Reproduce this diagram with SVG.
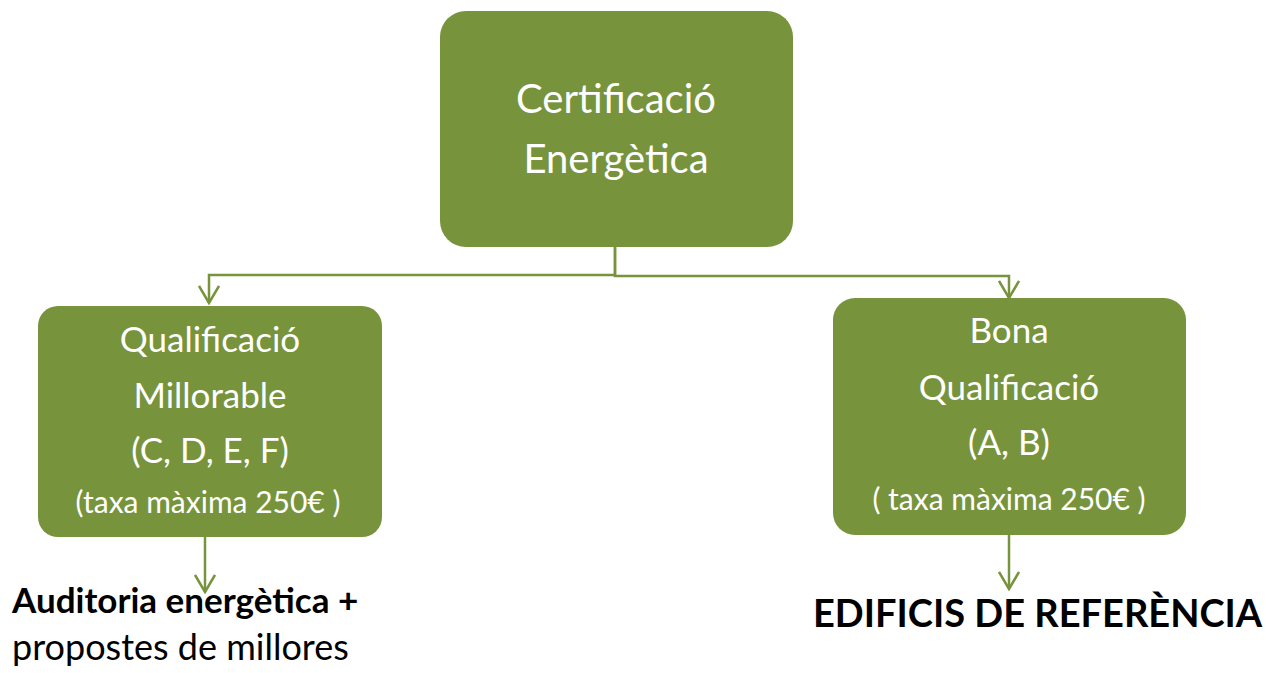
<svg xmlns="http://www.w3.org/2000/svg" width="1266" height="673" viewBox="0 0 1266 673">
<style>
.box{fill:#77933c}
.t{font-family:Lato,"Open Sans",sans-serif;fill:#ffffff;text-anchor:middle}
.c{fill:none;stroke:#77933c;stroke-width:2.5}
.b{font-family:Lato,"Open Sans",sans-serif;fill:#000000}
</style>
<defs>
<marker id="ah" viewBox="0 0 20 22" refX="18" refY="11" markerWidth="20" markerHeight="22" markerUnits="userSpaceOnUse" orient="auto">
<path d="M1,1 L18,11 L1,21" fill="none" stroke="#77933c" stroke-width="2.5"/>
</marker>
</defs>
<g id="connectors">
<path class="c" d="M615,247 V275 H209 V303" marker-end="url(#ah)"/>
<path class="c" d="M615,247 V276 H1009 V298" marker-end="url(#ah)"/>
<path class="c" d="M205,537 V592" marker-end="url(#ah)"/>
<path class="c" d="M1009,535 V589" marker-end="url(#ah)"/>
</g>
<g id="node-top">
<rect class="box" x="440" y="11" width="353" height="236" rx="26"/>
<text class="t" x="616" y="113" font-size="40">Certificació</text>
<text class="t" x="616" y="173" font-size="40">Energètica</text>
</g>
<g id="node-left">
<rect class="box" x="38" y="306" width="344" height="231" rx="20"/>
<text class="t" x="210" y="352" font-size="35">Qualificació</text>
<text class="t" x="210" y="408" font-size="35">Millorable</text>
<text class="t" x="210" y="463" font-size="35">(C, D, E, F)</text>
<text class="t" x="208" y="513" font-size="30">(taxa màxima 250€ )</text>
</g>
<g id="node-right">
<rect class="box" x="833" y="298" width="353" height="237" rx="22"/>
<text class="t" x="1009" y="343" font-size="35">Bona</text>
<text class="t" x="1009" y="400" font-size="35">Qualificació</text>
<text class="t" x="1009" y="455" font-size="35">(A, B)</text>
<text class="t" x="1009" y="510" font-size="30">( taxa màxima 250€ )</text>
</g>
<g id="node-auditoria">
<text class="b" x="12" y="613" font-size="35" font-weight="bold">Auditoria energètica +</text>
<text class="b" x="12" y="660" font-size="36">propostes de millores</text>
</g>
<g id="node-edificis">
<text class="b" x="813" y="627" font-size="38" font-weight="bold">EDIFICIS DE REFERÈNCIA</text>
</g>
</svg>
